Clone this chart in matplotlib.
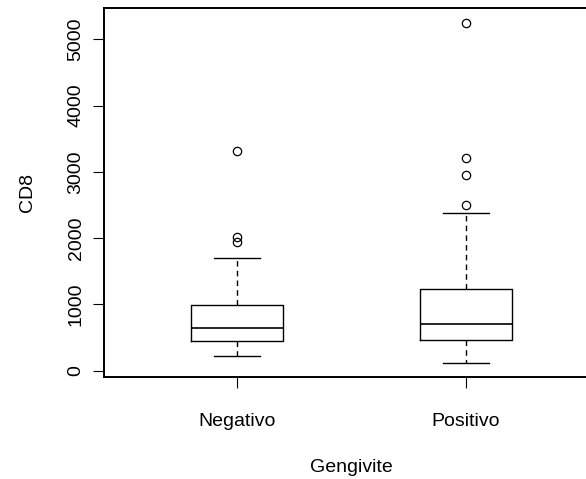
import matplotlib
matplotlib.use('Agg')
import matplotlib.pyplot as plt

plt.rcParams['font.family'] = ['Liberation Sans', 'DejaVu Sans']

groups = ['Negativo', 'Positivo']
medians = [640, 700]
q1 = [443, 463]
q3 = [987, 1233]
whisk_lo = [226, 121]
whisk_hi = [1705, 2380]
outliers_neg = [1937, 2013, 3315]
outliers_pos = [2505, 2958, 3214, 5251]
yticks = [0, 1000, 2000, 3000, 4000, 5000]

stats = []
for i, name in enumerate(groups):
    stats.append({
        'label': name,
        'med': medians[i],
        'q1': q1[i],
        'q3': q3[i],
        'whislo': whisk_lo[i],
        'whishi': whisk_hi[i],
        'fliers': [outliers_neg, outliers_pos][i],
    })

fig = plt.figure(figsize=(5.86, 4.79), dpi=100)
# axes extends past the right edge (right spine is cropped in the original)
ax = fig.add_axes([104 / 586, 1 - 376.7 / 479, 495 / 586, 368.4 / 479])

lw = 1.0
ax.bxp(stats, positions=[1, 2], widths=0.4, patch_artist=False,
       boxprops=dict(color='black', linewidth=lw),
       medianprops=dict(color='black', linewidth=lw * 1.2),
       whiskerprops=dict(color='black', linewidth=lw, linestyle=(0, (4, 3))),
       capprops=dict(color='black', linewidth=lw),
       flierprops=dict(marker='o', markerfacecolor='none', markeredgecolor='black',
                       markersize=6, markeredgewidth=0.9),
       capwidths=0.2)

ax.set_xlim(0.42, 2.58)
ax.set_ylim(-90, 5468)
ax.set_yticks(yticks)
ax.set_yticklabels([str(v) for v in yticks], rotation=90, va='center')
ax.set_xticks([1, 2])
ax.set_xticklabels(groups)

ax.tick_params(axis='both', direction='out', length=8, width=0.8, labelsize=14, color='black')
ax.tick_params(axis='y', pad=6)
ax.tick_params(axis='x', pad=18)

for s in ax.spines.values():
    s.set_linewidth(1.4)

ax.set_xlabel('Gengivite', fontsize=14, labelpad=21)
ax.set_ylabel('CD8', fontsize=14, labelpad=23)

fig.savefig('out.png', dpi=100)
